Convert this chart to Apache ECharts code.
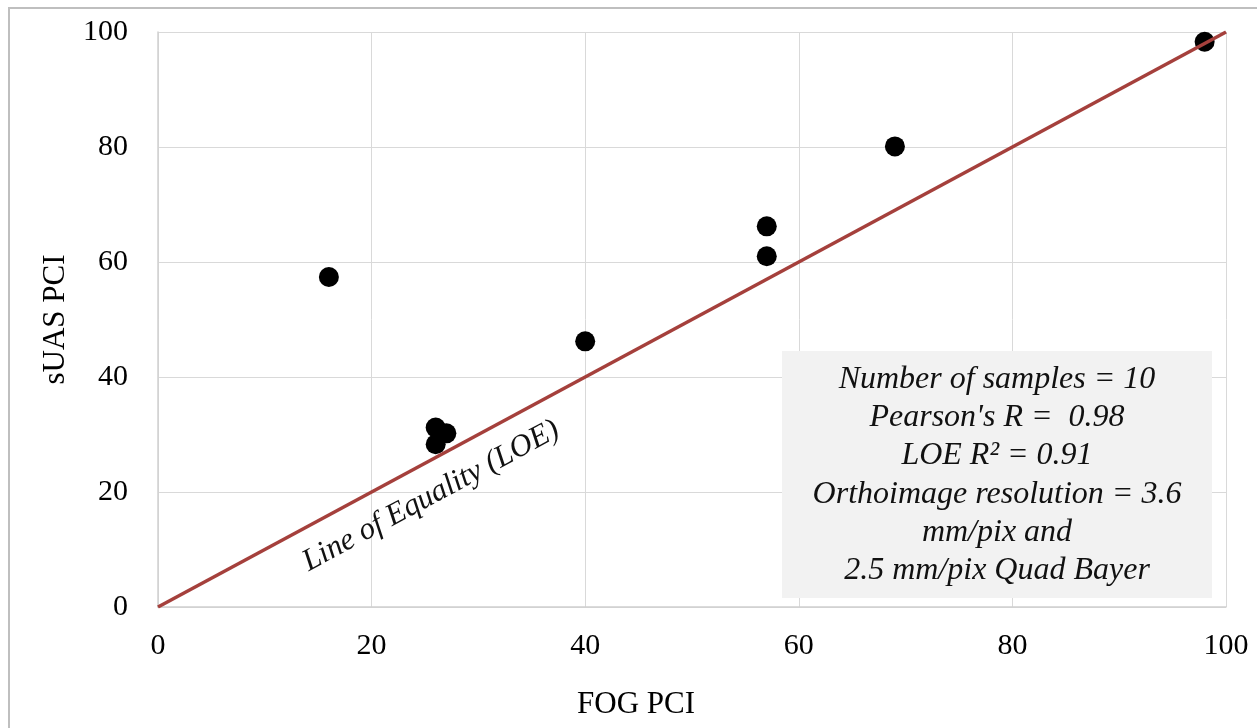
<!DOCTYPE html>
<html>
<head>
<meta charset="utf-8">
<script src="https://cdn.jsdelivr.net/npm/echarts@6/dist/echarts.min.js"></script>
<style>
  html, body { margin: 0; padding: 0; background: #fff; }
  #chart { width: 1257px; height: 728px; }
</style>
</head>
<body>
<div id="chart"></div>
<script>
// FOG PCI vs sUAS PCI
var fogPci  = [16, 26, 26, 27, 40, 57, 57, 69, 98];
var suasPci = [57.4, 31.2, 28.3, 30.2, 46.2, 66.2, 61.0, 80.1, 98.3];
var loeLine = [[0, 0], [100, 100]];
var ticks = [0, 20, 40, 60, 80, 100];

var statsText = [
  'Number of samples = 10',
  "Pearson's R =  0.98",
  'LOE R\u00B2 = 0.91',
  'Orthoimage resolution = 3.6',
  'mm/pix and',
  '2.5 mm/pix Quad Bayer'
];

var font = '"Liberation Serif", "DejaVu Serif", serif';

var points = fogPci.map(function (x, i) { return [x, suasPci[i]]; });

var chart = echarts.init(document.getElementById('chart'));

var option = {
  backgroundColor: '#fff',
  animation: false,
  grid: { left: 158, right: 31, top: 32, bottom: 121 },
  xAxis: {
    type: 'value', min: ticks[0], max: ticks[ticks.length - 1], interval: 20,
    name: 'FOG PCI', nameLocation: 'middle', nameGap: 82,
    nameTextStyle: { fontFamily: font, fontSize: 31, color: '#000', padding: [0, 112, 0, 0] },
    axisLine: { lineStyle: { color: '#d0d0d0', width: 1.5 } },
    axisTick: { show: false },
    axisLabel: { fontFamily: font, fontSize: 30, color: '#000', margin: 24 },
    splitLine: { lineStyle: { color: '#d9d9d9', width: 1 } }
  },
  yAxis: {
    type: 'value', min: ticks[0], max: ticks[ticks.length - 1], interval: 20,
    name: 'sUAS PCI', nameLocation: 'middle', nameGap: 87,
    nameTextStyle: { fontFamily: font, fontSize: 31, color: '#000' },
    axisLine: { show: true, lineStyle: { color: '#d0d0d0', width: 1.5 } },
    axisTick: { show: false },
    axisLabel: { fontFamily: font, fontSize: 30, color: '#000', margin: 30 },
    splitLine: { lineStyle: { color: '#d9d9d9', width: 1 } }
  },
  series: [
    {
      type: 'scatter',
      data: points,
      symbolSize: 20,
      itemStyle: { color: '#000', opacity: 1 },
      z: 3
    },
    {
      type: 'line',
      data: loeLine,
      symbol: 'none',
      lineStyle: { color: '#a5403c', width: 3.5 },
      z: 4
    }
  ],
  graphic: [
    {
      type: 'rect',
      shape: { x: 9, y: 8, width: 1400, height: 900 },
      style: { fill: 'none', stroke: '#bfbfbf', lineWidth: 2 },
      silent: true, z: 100
    },
    {
      type: 'rect',
      shape: { x: 782, y: 351, width: 430, height: 247 },
      style: { fill: '#f2f2f2' },
      z: 50
    },
    {
      type: 'text',
      x: 997, y: 475,
      style: {
        text: statsText.join('\n'),
        fontFamily: font, fontStyle: 'italic', fontSize: 32,
        lineHeight: 38.2, fill: '#111',
        align: 'center', verticalAlign: 'middle'
      },
      z: 51
    },
    {
      type: 'text',
      x: 431, y: 496,
      rotation: Math.atan(575 / 1068),
      style: {
        text: 'Line of Equality (LOE)',
        fontFamily: font, fontStyle: 'italic', fontSize: 31,
        fill: '#111', align: 'center', verticalAlign: 'middle'
      },
      z: 51
    }
  ]
};

chart.setOption(option);
</script>
</body>
</html>
